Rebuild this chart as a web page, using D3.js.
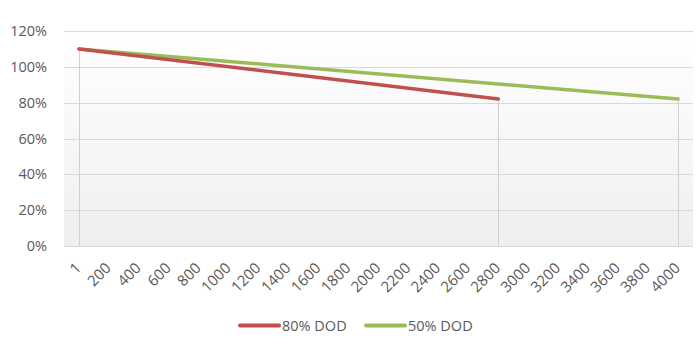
<!DOCTYPE html>
<html><head><meta charset="utf-8">
<script src="https://cdn.jsdelivr.net/npm/d3@7"></script>
<style>body{margin:0;background:#fff}svg{display:block}text{font-family:"Open Sans",sans-serif;fill:#595959}</style>
</head><body><svg id="c" width="700" height="350"></svg>
<script>
const categories = ["1","200","400","600","800","1000","1200","1400","1600","1800","2000","2200","2400","2600","2800","3000","3200","3400","3600","3800","4000"];
const dod80 = [1.10,null,null,null,null,null,null,null,null,null,null,null,null,null,0.82,null,null,null,null,null,null];
const dod50 = [1.10,null,null,null,null,null,null,null,null,null,null,null,null,null,null,null,null,null,null,null,0.82];
const seriesNames = ["80% DOD","50% DOD"];
const colors = ["#c0504d","#9bbb59"];
const yTicks = [0,0.2,0.4,0.6,0.8,1.0,1.2];

const svg = d3.select("#c");
const L=64, R=693, T=31, B=246;
const x = d3.scaleBand().domain(categories).range([L,R]);
const y = d3.scaleLinear().domain([0,1.2]).range([B,T]);
const cx = c => x(c)+x.bandwidth()/2;

const defs = svg.append("defs");
const g = defs.append("linearGradient").attr("id","bg").attr("x1",0).attr("x2",0).attr("y1",0).attr("y2",1);
g.append("stop").attr("offset","0%").attr("stop-color","#ffffff");
g.append("stop").attr("offset","100%").attr("stop-color","#efefef");
svg.append("rect").attr("x",L).attr("y",T).attr("width",R-L).attr("height",B-T).attr("fill","url(#bg)");

// gridlines
svg.append("g").selectAll("line").data(yTicks).join("line")
  .attr("x1",L).attr("x2",R).attr("y1",d=>Math.round(y(d))+0.5).attr("y2",d=>Math.round(y(d))+0.5)
  .attr("stroke","#d9d9d9").attr("stroke-width",1);

// y labels
const yAxis = d3.axisLeft(y).tickValues(yTicks).tickFormat(d3.format(".0%")).tickSize(0).tickPadding(17);
const ya = svg.append("g").attr("transform",`translate(${L},0)`).call(yAxis);
ya.select(".domain").remove();
ya.selectAll("text").style("font-size","14.5px").attr("fill","#595959");

// x labels
const xAxis = d3.axisBottom(x).tickSize(0).tickPadding(0);
const xa = svg.append("g").attr("transform",`translate(0,${B})`).call(xAxis);
xa.select(".domain").remove();
xa.selectAll("text").style("font-size","15px").attr("fill","#595959")
  .attr("text-anchor","end").attr("dy",null).attr("y",0)
  .attr("transform","translate(3,23) rotate(-45)");

// series
const all = [dod80,dod50];
all.forEach((vals,i)=>{
  const pts = categories.map((c,j)=>({c,v:vals[j]})).filter(d=>d.v!=null);
  svg.append("g").selectAll("line").data(pts).join("line")
    .attr("x1",d=>Math.round(cx(d.c))+0.5).attr("x2",d=>Math.round(cx(d.c))+0.5)
    .attr("y1",d=>y(d.v)).attr("y2",B)
    .attr("stroke","#d0d0d0").attr("stroke-width",1);
});
all.slice().reverse().forEach((vals,k)=>{
  const i = all.length-1-k;
  const pts = categories.map((c,j)=>({c,v:vals[j]})).filter(d=>d.v!=null);
  svg.append("path").datum(pts)
    .attr("d",d3.line().x(d=>cx(d.c)).y(d=>y(d.v)))
    .attr("fill","none").attr("stroke",colors[i]).attr("stroke-width",3.5).attr("stroke-linecap","round");
});
// legend
const legX=[240,366];
seriesNames.forEach((n,i)=>{
  const lg = svg.append("g");
  lg.append("line").attr("x1",legX[i]).attr("x2",legX[i]+39).attr("y1",325.5).attr("y2",325.5)
    .attr("stroke",colors[i]).attr("stroke-width",4).attr("stroke-linecap","round");
  lg.append("text").attr("x",legX[i]+42).attr("y",330.5).style("font-size","14.5px").text(n);
});
</script></body></html>
